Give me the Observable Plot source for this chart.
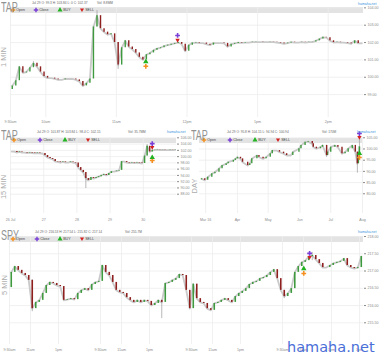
<!DOCTYPE html>
<html>
<head>
<meta charset="utf-8">
<script src="https://cdn.jsdelivr.net/npm/d3@7"></script>
<script src="https://cdn.jsdelivr.net/npm/@observablehq/plot@0.6"></script>
<style>
html,body{margin:0;padding:0;background:#fff;}
#root{position:relative;width:380px;height:358px;overflow:hidden;font-family:"Liberation Sans",Arial,sans-serif;}
.abs{position:absolute;white-space:nowrap;}
.title{font-size:15px;line-height:15px;color:#929292;transform:scaleX(0.6);transform-origin:0 0;}
.info{font-size:3.2px;line-height:4px;color:#666;}
.src{font-size:3.5px;line-height:4px;color:#3b94dc;}
.band{background:#e3e3e3;}
.leg{font-size:3.6px;line-height:4px;color:#444;}
.side{font-size:7.5px;line-height:8px;color:#ababab;transform:translate(-50%,-50%) rotate(-90deg);}
.wm{font-family:"DejaVu Sans",sans-serif;font-size:14.5px;line-height:16px;color:#4a6fd8;}
</style>
</head>
<body>
<div id="root"></div>
<script>
// ================= DATA =================
// --- TAP 1 MIN (closes sampled every 3 minutes after 9:30am) ---
const tap1Step = 3;
const tap1Open0 = 99.3;
const tap1Close = [
  99.5, 99.8, 100.6, 100.25, 100.3, 100.55, 100.8, 100.6, 100.3, 100.05,
  99.95, 99.95, 99.9, 99.85, 99.85, 99.9, 99.9, 99.9, 99.85, 99.75,
  99.5, 99.65, 99.9, 102.9, 103.55, 102.8, 102.6, 102.45, 102.5, 102.0,
  100.7, 101.7, 102.1, 101.75, 101.6, 101.4, 101.15, 101.0, 101.3, 101.4,
  101.55, 101.65, 101.7, 101.8, 101.85, 101.9, 101.95, 102.0, 101.9, 101.5,
  101.85, 101.97, 102.0, 101.97, 101.97, 101.9, 101.85, 101.97, 101.97, 101.97,
  101.95, 101.75, 101.9, 101.95, 102.0, 101.98, 102.0, 102.0, 102.02, 102.03,
  102.03, 102.02, 102.02, 102.03, 102.02, 102.0, 101.97, 101.93, 101.97, 102.02,
  102.0, 102.0, 102.02, 102.0, 102.02, 102.03, 102.1, 102.2, 102.3, 102.28,
  102.1, 102.0, 102.02, 102.0, 102.0, 101.97, 101.93, 102.1, 101.95, 101.95
];
const tap1Wicks = [[24, 102.9, 103.84], [30, 100.45, 102.0], [20, 99.45, 99.75], [6, 100.6, 100.9]];
const tap1Markers = [
  {type: "Open", x: 115, p: 100.63}, {type: "BUY", x: 115, p: 100.9},
  {type: "SELL", x: 142, p: 102.12}, {type: "Close", x: 142, p: 102.41}
];
const tap1YTicks = [99, 100, 101, 102, 103, 104];
const tap1XTicks = [0, 30, 90, 150, 210, 270];
const tap1XLabels = ["9:30am", "10am", "11am", "12pm", "1pm", "2pm"];

// --- TAP 15 MIN (30-minute closes, 13 per session, 5 sessions) ---
const tap15Step = 2; // in 15-minute units
const tap15Open0 = 101.6;
const tap15Close = [
  101.6, 101.6, 101.3, 101.5, 101.3, 101.3, 101.15, 101.3, 101.15, 101.0, 101.15, 101.0, 101.0,
  100.35, 99.7, 99.4, 99.1, 98.4, 98.3, 98.1, 98.3, 98.1, 98.1, 98.3, 98.1, 97.95,
  96.5, 95.6, 94.9, 93.0, 92.4, 93.3, 93.0, 93.3, 93.6, 94.0, 94.3, 94.0, 94.6,
  95.2, 95.2, 95.4, 95.6, 98.4, 98.4, 98.1, 97.95, 98.1, 97.95, 98.1, 97.95, 97.8,
  100.2, 103.3, 101.5, 102.0, 102.1, 102.2, 102.1, 102.15, 102.1, 102.1, 102.15, 102.1, 102.15
];
const tap15Wicks = [[29, 89.8, 93.5], [53, 100.2, 103.84]];
const tap15Markers = [
  {type: "Close", x: 111, p: 104.15}, {type: "SELL", x: 111, p: 102.9},
  {type: "BUY", x: 111, p: 99.7}, {type: "Open", x: 111, p: 98.75}
];
const tap15YTicks = [88, 90, 92, 94, 96, 98, 100, 102, 104, 106];
const tap15XTicks = [0, 26, 52, 78, 104];
const tap15XLabels = ["26 Jul", "27", "28", "29", "30"];

// --- TAP DAY ---
const dayOpen0 = 86.2;
const dayDates = [
  "2016-02-26","2016-02-29","2016-03-03","2016-03-07","2016-03-10","2016-03-14","2016-03-17","2016-03-21",
  "2016-03-23","2016-03-28","2016-03-30","2016-04-01","2016-04-04","2016-04-06","2016-04-11","2016-04-13",
  "2016-04-15","2016-04-20","2016-04-22","2016-04-26","2016-04-29","2016-05-03","2016-05-05","2016-05-09",
  "2016-05-12","2016-05-16","2016-05-19","2016-05-23","2016-05-25","2016-05-31","2016-06-02","2016-06-06",
  "2016-06-09","2016-06-13","2016-06-14","2016-06-17","2016-06-21","2016-06-23","2016-06-27","2016-06-28",
  "2016-07-01","2016-07-05","2016-07-08","2016-07-12","2016-07-15","2016-07-18","2016-07-22","2016-07-25",
  "2016-07-27","2016-07-28","2016-07-29"
];
const dayClose = [
  86.7, 86.0, 87.4, 88.9, 89.6, 91.2, 92.6, 93.4,
  94.1, 94.9, 95.6, 96.3, 95.6, 94.1, 92.6, 93.4,
  95.6, 97.1, 96.3, 95.6, 96.3, 97.9, 99.3, 99.3,
  98.6, 97.9, 97.1, 97.1, 98.6, 100.1, 101.6, 103.0,
  103.3, 102.3, 100.8, 100.1, 100.8, 101.6, 97.1, 98.6,
  100.8, 101.6, 100.8, 97.9, 98.6, 100.1, 101.6, 98.6,
  93.4, 95.8, 100.94
];
const dayWicks = [["2016-07-27", 89.2, 98.6], ["2016-07-29", 94.94, 104.15], ["2016-06-27", 96.3, 101.6]];
const dayMarkers = [
  {type: "Close", x: "2016-07-29", p: 106.9}, {type: "SELL", x: "2016-07-29", p: 105.1},
  {type: "BUY", x: "2016-07-29", p: 98.0}, {type: "Open", x: "2016-07-29", p: 96.2}
];
const dayYTicks = [80, 85, 90, 95, 100, 105];
const dayXTicks = ["2016-03-01", "2016-04-01", "2016-05-01", "2016-06-01", "2016-07-01", "2016-08-01"];
const dayXLabels = ["Mar 16", "Apr", "May", "Jun", "Jul", "Aug"];

// --- SPY 5 MIN (15-minute closes per session, 4 sessions) ---
const spyOpen0 = 216.52;
const spyCloseBySession = [
  [216.96, 217.13, 217.02, 216.93, 216.87, 216.73, 215.91, 216.09, 216.15, 216.35, 216.58, 216.67, 216.64,
   216.58, 216.55, 216.15, 216.17, 216.2, 216.17, 216.35, 216.44, 216.49, 216.44, 216.61, 216.67, 216.7],
  [217.16, 216.96, 216.87, 216.67, 216.44, 216.38, 216.35, 216.23, 216.15, 216.09, 216.15, 216.09, 216.15,
   216.12, 216.0, 216.06, 216.15, 216.09, 216.64, 216.67, 216.73, 216.78, 216.9, 216.87, 216.44, 215.91],
  [216.62, 216.2, 216.09, 216.06, 215.91, 215.86, 216.06, 216.09, 216.15, 216.2, 216.15, 216.09, 216.26,
   216.35, 216.41, 216.49, 216.61, 216.67, 216.7, 216.78, 216.81, 216.87, 216.96, 217.04, 216.78, 216.44],
  [216.26, 216.35, 216.49, 216.96, 217.13, 217.25, 217.3, 217.42, 217.45, 217.33, 217.22, 217.1, 217.1,
   217.16, 217.22, 217.25, 217.28, 217.36, 217.16, 217.1, 217.07, 217.1, 217.42]
];
const spyWicks = [[0, 6, 215.82, 216.75], [1, 17, 215.62, 216.15], [3, 0, 216.2, 216.44], [3, 8, 217.3, 217.54]];
const spyMarkers = [
  {type: "BUY", x: 1261, p: 217.07}, {type: "Open", x: 1261, p: 216.93},
  {type: "Close", x: 1286, p: 217.51}, {type: "SELL", x: 1286, p: 217.39}
];
const spyYTicks = [215.5, 216, 216.5, 217, 217.5, 218];
const spyXTicks = [0, 90, 210, 390, 480, 600, 780, 870, 990, 1170, 1260, 1380, 1500];
const spyXLabels = ["9:30am","11am","1pm","9:30am","11am","1pm","9:30am","11am","1pm","9:30am","11am","1pm","3pm"];

// ================= STYLE =================
const GREEN = "#3f9a3f", RED = "#8e1f1f", HALO = "#c9c9c9", GRID = "#ececec", WICK = "#9a9a9a";
const COLORS = {Open: "#f39020", Close: "#7a3fd6", BUY: "#22b322", SELL: "#d42020"};
const triDown = {draw(ctx, size) { const s = Math.sqrt(size); ctx.moveTo(-0.62*s, -0.45*s); ctx.lineTo(0.62*s, -0.45*s); ctx.lineTo(0, 0.62*s); ctx.closePath(); }};
const SYM = {Open: d3.symbolCross, Close: d3.symbolCross, BUY: d3.symbolTriangle, SELL: triDown};
const LEG = ["Open", "Close", "BUY", "SELL"];

const root = document.getElementById("root");
function put(cls, text, left, top) {
  const d = document.createElement("div");
  d.className = "abs " + cls; d.textContent = text;
  d.style.left = left + "px"; d.style.top = top + "px";
  root.appendChild(d); return d;
}
function band(x0, y0, w, h, xs) {
  const b = document.createElement("div");
  b.className = "abs band";
  Object.assign(b.style, {left: x0 + "px", top: y0 + "px", width: w + "px", height: h + "px"});
  root.appendChild(b);
  return () => {
    const cy = y0 + h / 2;
    LEG.forEach((name, j) => {
      const svg = d3.create("svg").attr("width", 6).attr("height", 6)
        .style("position", "absolute").style("left", (xs[j] - 3) + "px").style("top", (cy - 3) + "px");
      svg.append("path").attr("transform", "translate(3,3)")
        .attr("d", d3.symbol(SYM[name], 11)()).attr("fill", COLORS[name]);
      root.appendChild(svg.node());
      put("leg", name, xs[j] + 3.2, cy - 2);
    });
  };
}
const fmtMap = (ticks, labels) => { const m = new Map(ticks.map((t, i) => [+t, labels[i]])); return d => m.get(+d) ?? ""; };

function candleMarks(bars, wicks, markers, bw) {
  return [
    Plot.line(bars, {x: "x", y: "c", stroke: HALO, strokeWidth: 1.8}),
    Plot.ruleX(wicks, {x: "x", y1: "lo", y2: "hi", stroke: WICK, strokeWidth: 0.7}),
    Plot.ruleX(bars.filter(d => d.c >= d.o), {x: "x", y1: "o", y2: "c", stroke: GREEN, strokeWidth: bw}),
    Plot.ruleX(bars.filter(d => d.c < d.o), {x: "x", y1: "o", y2: "c", stroke: RED, strokeWidth: bw}),
    ...LEG.map(t => Plot.dot(markers.filter(m => m.type === t), {x: "x", y: "p", r: 2, fill: COLORS[t], stroke: "none", symbol: SYM[t]}))
  ];
}
function panel(pos, x, y, xTicks, yTicks, marks) {
  const svg = Plot.plot({
    width: pos.w, height: pos.h,
    marginLeft: pos.ml, marginRight: pos.mr, marginTop: pos.mt, marginBottom: pos.mb,
    style: {background: "transparent", color: "#8a8a8a", fontSize: "3.6px", fontFamily: "Liberation Sans, Arial, sans-serif", overflow: "visible"},
    x: {label: null, tickSize: 0, ...x},
    y: {label: null, axis: "right", tickSize: 2, tickPadding: 2, tickFormat: d3.format(".2f"), ...y},
    marks: [Plot.ruleX(xTicks, {stroke: GRID, strokeWidth: 0.8}), Plot.ruleY(yTicks, {stroke: GRID, strokeWidth: 0.8}), ...marks]
  });
  const d = document.createElement("div");
  d.className = "abs";
  Object.assign(d.style, {left: pos.l + "px", top: pos.t + "px", width: pos.w + "px", height: pos.h + "px"});
  d.appendChild(svg); root.appendChild(d);
}
const mkBars = (closes, open0, xf) => closes.map((c, i) => ({x: xf(i), o: i ? closes[i - 1] : open0, c}));

// ================= BANDS (under the charts) =================
const leg1 = band(10, 7.3, 353, 5.4, [13, 36, 60, 82]);
const leg2 = band(10, 137.7, 166, 5, [14, 40, 65, 88]);
const leg3 = band(199, 137.7, 163, 5, [204, 230, 255, 278]);
const leg4 = band(9, 236, 354, 5.7, [13, 37, 60, 82]);

// ================= PANEL 1: TAP 1 MIN =================
{
  const xf = i => i * tap1Step + tap1Step / 2;
  const bars = mkBars(tap1Close, tap1Open0, xf);
  const wicks = tap1Wicks.map(([i, lo, hi]) => ({x: xf(i), lo, hi}));
  panel({l: 0, t: 0, w: 380, h: 128, ml: 10, mr: 17, mt: 7, mb: 11},
    {domain: [0, 300], ticks: tap1XTicks, tickFormat: fmtMap(tap1XTicks, tap1XLabels), tickPadding: 3},
    {domain: [97.68, 104.02], ticks: tap1YTicks},
    tap1XTicks, tap1YTicks, candleMarks(bars, wicks, tap1Markers, 1.4));
}
// ================= PANEL 2: TAP 15 MIN =================
{
  const xf = i => i * tap15Step + tap15Step / 2;
  const bars = mkBars(tap15Close, tap15Open0, xf);
  const wicks = tap15Wicks.map(([i, lo, hi]) => ({x: xf(i), lo, hi}));
  panel({l: 0, t: 126, w: 192, h: 100, ml: 10, mr: 16, mt: 11, mb: 13},
    {domain: [0, 130], ticks: tap15XTicks, tickFormat: fmtMap(tap15XTicks, tap15XLabels), tickPadding: 5},
    {domain: [81.84, 106.1], ticks: tap15YTicks},
    tap15XTicks, tap15YTicks, candleMarks(bars, wicks, tap15Markers, 1.5));
}
// ================= PANEL 3: TAP DAY =================
{
  const D = s => new Date(s);
  const bars = mkBars(dayClose, dayOpen0, i => D(dayDates[i]));
  const wicks = dayWicks.map(([s, lo, hi]) => ({x: D(s), lo, hi}));
  const markers = dayMarkers.map(m => ({...m, x: D(m.x)}));
  const ticks = dayXTicks.map(D);
  panel({l: 190, t: 126, w: 190, h: 100, ml: 9, mr: 18, mt: 11, mb: 13},
    {type: "utc", domain: [D("2016-02-24"), D("2016-08-01")], ticks, tickFormat: fmtMap(ticks, dayXLabels), tickPadding: 5},
    {domain: [71.2, 105.13], ticks: dayYTicks},
    ticks, dayYTicks, candleMarks(bars, wicks, markers, 1.4));
}
// ================= PANEL 4: SPY 5 MIN =================
{
  const flat = [];
  spyCloseBySession.forEach((arr, d) => arr.forEach((c, k) => flat.push({c, x: d * 390 + 15 * k + 7.5})));
  const bars = flat.map((b, i) => ({x: b.x, o: i ? flat[i - 1].c : spyOpen0, c: b.c}));
  const wicks = spyWicks.map(([d, k, lo, hi]) => ({x: d * 390 + 15 * k + 7.5, lo, hi}));
  panel({l: 0, t: 226, w: 380, h: 132, ml: 9, mr: 17, mt: 10, mb: 14},
    {domain: [0, 1517], ticks: spyXTicks, tickFormat: fmtMap(spyXTicks, spyXLabels), tickPadding: 4},
    {domain: [214.871, 218], ticks: spyYTicks},
    spyXTicks, spyYTicks, candleMarks(bars, wicks, spyMarkers, 1.6));
}

// ================= TEXT OVERLAYS =================
leg1(); leg2(); leg3(); leg4();
put("title", "TAP", 1, -1.5);
put("title", "TAP", 1, 127.3);
put("title", "TAP", 191, 127.3);
put("title", "SPY", 1, 227.3);

put("info", "Jul 29 O: 99.3 H: 103.84 L: 0 C: 102.37", 32, 1.3);
put("info", "Vol: 8.8MM", 97, 1.3);
put("info", "Jul 29 O: 101.87 H: 103.84 L: 98.4 C: 102.15", 37, 129.7);
put("info", "Vol: 35.7MM", 128, 129.7);
put("info", "Jul 29 O: 95.8 H: 104.15 L: 94.94 C: 100.94", 227, 129.7);
put("info", "Vol: 170M", 322, 129.7);
put("info", "Jul 29 O: 216.53 H: 217.54 L: 215.82 C: 217.14", 35, 229.7);
put("info", "Vol: 255.7M", 125, 229.7);

put("src", "hamaha.net", 358, 1.5);
put("src", "hamaha.net", 167, 129.7);
put("src", "hamaha.net", 357, 129.7);
put("src", "hamaha.net", 358, 229.7);

put("side", "1 MIN", 4, 56.5);
put("side", "15 MIN", 4, 186.5);
put("side", "DAY", 195, 185.5);
put("side", "5 MIN", 4.5, 285);

put("wm", "hamaha.net", 287, 339);
</script>
</body>
</html>
